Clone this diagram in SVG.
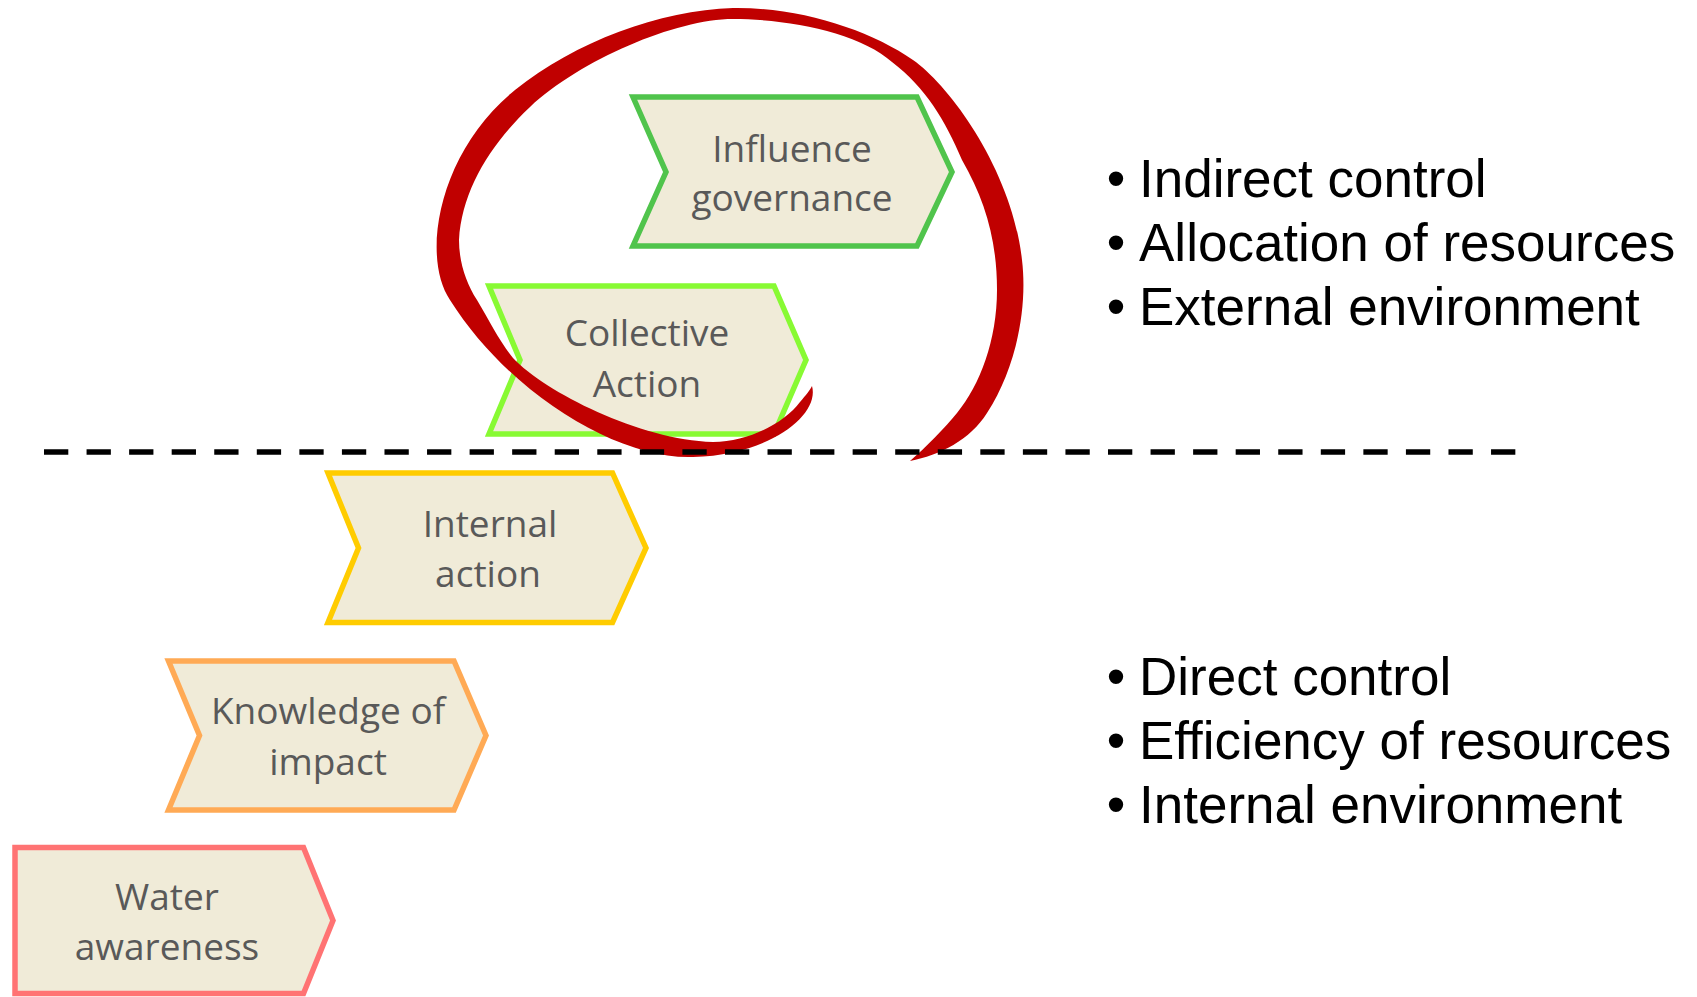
<svg xmlns="http://www.w3.org/2000/svg" width="1697" height="997" viewBox="0 0 1697 997">
<style>
.box{fill:#F0EBD8;stroke-width:5.5;stroke-linejoin:miter}
.lbl{font-family:"Open Sans","Noto Sans",sans-serif;font-size:37px;fill:#595959;text-anchor:middle}
.bul{font-family:"Liberation Sans",Arial,sans-serif;font-size:53px;fill:#000}
</style>
<rect width="1697" height="997" fill="#fff"/>
<g id="influence-governance">
<polygon class="box" stroke="#50C44C" points="633,97 917,97 952,172 917,246 633,246 666,172"/>
<text class="lbl" x="792" y="161.5">Influence</text>
<text class="lbl" x="792" y="211">governance</text>
</g>
<g id="collective-action">
<polygon class="box" stroke="#88FA33" points="489,286 774,286 806,360 774,434 489,434 520,360"/>
<text class="lbl" x="647" y="346">Collective</text>
<text class="lbl" x="647" y="396.5">Action</text>
</g>
<g id="internal-action">
<polygon class="box" stroke="#FFCC00" points="328,473 612.5,473 646,548 612.5,622.5 328,622.5 358.5,548"/>
<text class="lbl" x="490" y="536.5">Internal</text>
<text class="lbl" x="488" y="587">action</text>
</g>
<g id="knowledge-of-impact">
<polygon class="box" stroke="#FFAA55" points="168.5,661 454,661 486,735.5 454,810 168.5,810 199.5,735.5"/>
<text class="lbl" x="328" y="724">Knowledge of</text>
<text class="lbl" x="328" y="774.5">impact</text>
</g>
<g id="water-awareness">
<polygon class="box" stroke="#FF7373" points="15,847.5 303.5,847.5 333,920.5 303.5,993.5 15,993.5"/>
<text class="lbl" x="167" y="910">Water</text>
<text class="lbl" x="167" y="960">awareness</text>
</g>
<g id="red-loop">
<path fill="#C00000" d="M812,386 C820,415 770,455 693,457 C620,460 510,395 450,300 C420,255 440,150 515,90 C575,42 660,10 733,8 C800,7 870,30 913,60 C950,86 1012,170 1022,260 C1028,310 1015,370 987,413 C970,440 940,455 910,461 C925,448 945,428 957,413 C980,385 997,340 997,290 C997,240 985,200 962,160 C945,120 926,88 892,62 C860,33 790,19 733,19 C676,19 580,60 530,107 C490,145 462,190 459,240 C459,262 466,283 477,300 C490,322 500,342 513,358 C545,392 640,440 713,442 C750,442 785,422 800,402 C806,395 810,390 812,386 Z"/>
</g>
<g id="connectors">
<line x1="44" y1="452" x2="1516" y2="452" stroke="#000" stroke-width="5.5" stroke-dasharray="24.3 18.26"/>
</g>
<g id="indirect-list">
<text class="bul" x="1116" y="197" text-anchor="middle">•</text>
<text class="bul" x="1139" y="197">Indirect control</text>
<text class="bul" x="1116" y="261" text-anchor="middle">•</text>
<text class="bul" x="1139" y="261">Allocation of resources</text>
<text class="bul" x="1116" y="325" text-anchor="middle">•</text>
<text class="bul" x="1139" y="325">External environment</text>
</g>
<g id="direct-list">
<text class="bul" x="1116" y="695" text-anchor="middle">•</text>
<text class="bul" x="1139" y="695">Direct control</text>
<text class="bul" x="1116" y="759" text-anchor="middle">•</text>
<text class="bul" x="1139" y="759">Efficiency of resources</text>
<text class="bul" x="1116" y="823" text-anchor="middle">•</text>
<text class="bul" x="1139" y="823">Internal environment</text>
</g>
</svg>
